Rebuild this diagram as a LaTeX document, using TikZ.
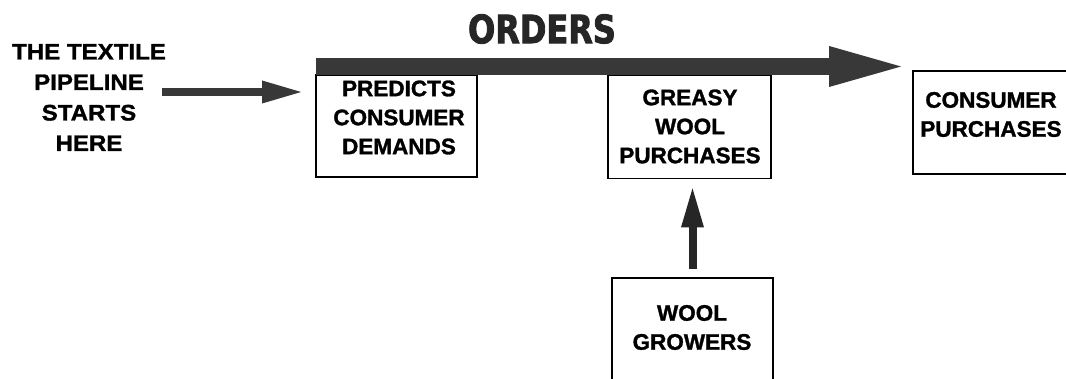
\documentclass[tikz,border=0pt]{standalone}
\usepackage{fontspec}
\setmainfont{Liberation Sans}[BoldFeatures={FakeBold=1.3}]
\newfontfamily\widefont{Liberation Sans}[FakeStretch=1.07,BoldFeatures={FakeBold=1.3}]
\newfontfamily\ordfont{DejaVu Sans}[FakeStretch=0.82,BoldFeatures={FakeBold=2.2}]
\usetikzlibrary{arrows.meta}
\tikzset{
  box/.style={draw=black, line width=1.8pt, rectangle, inner sep=0pt},
  lbl/.style={align=center, inner sep=0pt, font=\fontsize{22.5}{29}\selectfont\bfseries},
  bigarrow/.style={draw=black!78, line width=17pt, -{Triangle[length=72pt,width=41pt,line width=0pt]}},
  smallarrow/.style={draw=black!78, line width=7.5pt, -{Triangle[length=39pt,width=23pt,line width=0pt]}},
  uparrow/.style={draw=black!85, line width=8pt, -{Triangle[length=39pt,width=23pt,line width=0pt]}},
}
\begin{document}
\begin{tikzpicture}[x=1pt,y=-1pt]
\useasboundingbox (0,0) rectangle (1066,379);
\clip (0,0) rectangle (1066,379);
% boxes
\node[box, minimum width=161pt, minimum height=102pt] (pred) at (396.5,126) {};
\node[box, minimum width=163pt, minimum height=103pt] (greasy) at (689.5,127) {};
\node[box, minimum width=170pt, minimum height=103pt] (cons) at (998,122.5) {};
\node[box, minimum width=161pt, minimum height=130pt] (wool) at (692.5,343) {};
% texts
\node[lbl, font=\widefont\fontsize{22.5}{30.5}\selectfont\bfseries] (start) at (89,97.5) {THE TEXTILE\\PIPELINE\\STARTS\\HERE};
\node[lbl] (predt) at (399,117.5) {PREDICTS\\CONSUMER\\DEMANDS};
\node[lbl] (greasyt) at (690,126.5) {GREASY\\WOOL\\PURCHASES};
\node[lbl] (const) at (991,114.5) {CONSUMER\\PURCHASES};
\node[lbl] (woolt) at (692,327.5) {WOOL\\GROWERS};
\node[inner sep=0pt, text=black!85, font=\ordfont\bfseries\fontsize{39}{40}\selectfont] (orders) at (542,29) {ORDERS};
% connectors
\draw[smallarrow, shorten <=-4pt, shorten >=14pt] (start.east |- 0,92) -- (pred.west |- 0,92);
\draw[bigarrow, shorten >=11pt] ([xshift=0.9pt]pred.west |- 0,66.5) -- (cons.west |- 0,66.5);
\draw[uparrow, shorten <=8pt, shorten >=9pt] (wool.north) -- (wool.north |- greasy.south);
\end{tikzpicture}
\end{document}
